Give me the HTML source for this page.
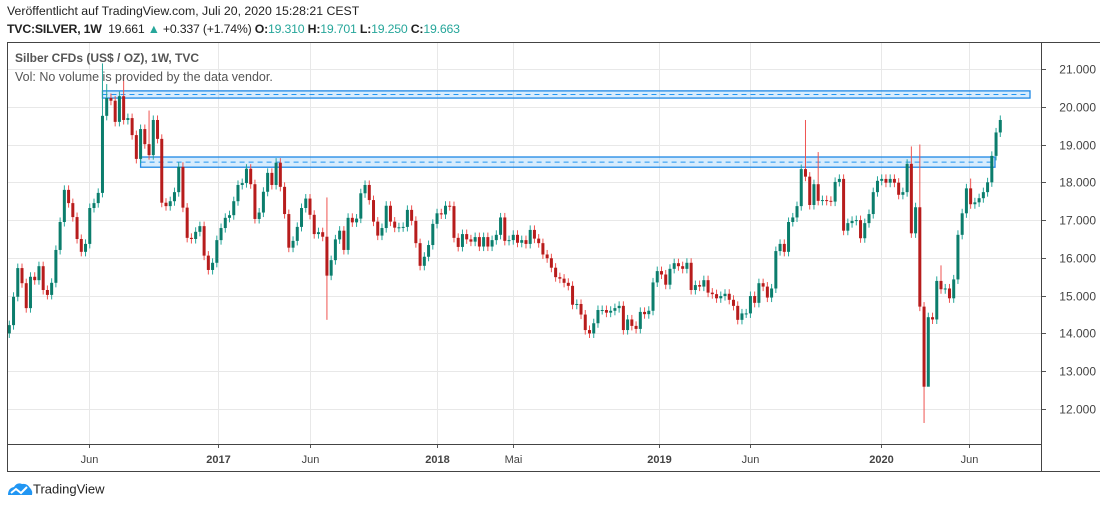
<!DOCTYPE html>
<html><head><meta charset="utf-8">
<style>
body{margin:0;background:#fff;font-family:"Liberation Sans",sans-serif;}
#wrap{position:relative;width:1100px;height:508px;overflow:hidden;background:#fff;}
.t{position:absolute;white-space:nowrap;color:#333;}
</style></head>
<body>
<div id="wrap">
<div class="t" style="left:7px;top:4px;font-size:12.3px;color:#222;">Veröffentlicht auf TradingView.com, Juli 20, 2020 15:28:21 CEST</div>
<div class="t" style="left:7px;top:22px;font-size:12.3px;color:#222;letter-spacing:-0.2px;"><b>TVC:SILVER, 1W</b>&nbsp; 19.661 <span style="color:#26a69a">▲</span> +0.337 (+1.74%) <b>O:</b><span style="color:#26a69a">19.310</span> <b>H:</b><span style="color:#26a69a">19.701</span> <b>L:</b><span style="color:#26a69a">19.250</span> <b>C:</b><span style="color:#26a69a">19.663</span></div>
<svg id="chart" width="1100" height="508" style="position:absolute;left:0;top:0;">
<g id="grid"></g>
<g id="zones"></g>
<g id="candles"></g>
<g id="axes"></g>
</svg>
<div class="t" style="left:15px;top:51px;font-size:12px;color:#555;font-weight:bold;">Silber CFDs (US$ / OZ), 1W, TVC</div>
<div class="t" style="left:15px;top:70px;font-size:12.5px;color:#555;">Vol: No volume is provided by the data vendor.</div>
<div class="t" style="left:7px;top:481px;font-size:13px;color:#222;">
<svg width="26" height="18" style="vertical-align:middle"><path d="M1 14 Q1 7 7 6 Q10 1 15 3 Q20 2 23 7 Q26 10 25 14 Z" fill="#2196f3"/><path d="M4 12 L9 8 L14 12 L20 6" stroke="#fff" stroke-width="2" fill="none"/></svg>TradingView</div>
</div>
<script>
const closes=[14.22,14.97,15.73,15.33,14.67,15.50,15.41,15.78,15.15,15.02,15.34,16.21,16.95,17.80,17.45,17.08,16.50,16.16,16.37,17.32,17.45,17.72,19.76,20.23,20.16,19.60,20.28,19.65,19.70,19.25,18.62,19.41,19.01,18.72,19.65,19.15,17.46,17.37,17.50,17.74,18.41,17.33,16.53,16.50,16.69,16.84,16.06,15.68,15.87,16.47,16.79,17.06,17.13,17.50,17.93,17.98,18.36,17.95,17.03,17.20,
17.75,18.25,17.93,18.52,17.88,17.16,16.27,16.45,16.82,17.32,17.57,17.14,16.63,16.68,16.56,15.53,15.94,16.49,16.72,16.21,17.06,16.94,17.04,17.71,17.93,17.53,16.96,16.59,16.79,17.38,16.96,16.80,16.81,16.82,17.27,16.98,16.39,15.79,16.03,16.34,16.90,17.18,17.15,17.38,17.37,16.53,16.29,16.63,16.49,16.43,16.55,16.30,16.55,16.30,16.47,16.61,17.07,16.45,16.47,16.61,16.40,16.47,16.37,16.74,16.51,16.39,16.09,15.99,15.74,15.49,15.45,
15.34,15.26,14.76,14.78,14.50,14.09,14.00,14.27,14.62,14.62,14.55,14.60,14.67,14.73,14.09,14.37,14.20,14.12,14.57,14.51,14.60,15.35,15.65,15.56,15.29,15.71,15.86,15.78,15.71,15.87,15.15,15.28,15.24,15.41,15.08,15.04,14.93,14.99,15.05,14.89,14.73,14.36,14.53,14.53,14.99,14.81,15.33,15.24,14.95,15.19,16.18,16.37,16.16,16.95,17.07,17.37,
18.35,18.15,17.40,17.95,17.51,17.53,17.51,17.49,18.01,18.09,16.72,16.92,16.98,17.00,16.52,16.92,17.16,17.74,18.04,18.09,17.99,18.09,17.99,17.67,17.74,18.49,16.65,17.34,14.71,12.59,14.43,14.37,15.39,15.17,15.19,14.93,15.43,16.61,17.18,17.84,17.42,17.47,17.58,17.74,18.00,18.70,19.32,19.65];
const firstOpen=14.0;
const wickIdx=[22,23,27,33,75,188,191,213,215,216,217,220,227];
const wickHigh=[21.15,20.6,20.8,19.9,17.6,19.65,18.8,18.95,19.0,null,null,15.8,18.1];
const wickLow=[null,null,null,null,14.36,null,null,null,null,11.63,13.9,null,null];
const zoneTop=[20.42,18.67];
const zoneBot=[20.23,18.40];
const zoneStart=[22,31];
const zoneEnd=[1030,995];
const yTicks=[12,13,14,15,16,17,18,19,20,21];
const xLabels=['Jun','2017','Jun','2018','Mai','2019','Jun','2020','Jun'];
const xLabelIdx=[18.8,49.3,71,101,119,153.4,174.9,205.9,226.7];
const L=7,R=1041,T=42,B=444,FB=471;
const yS=v=>409-(v-12)*37.78;
const xS=i=>9.3+i*4.235;
const NS='http://www.w3.org/2000/svg';
function mk(p,tag,a){const e=document.createElementNS(NS,tag);for(const k in a)e.setAttribute(k,a[k]);p.appendChild(e);return e;}
const grid=document.getElementById('grid'),ax=document.getElementById('axes'),cg=document.getElementById('candles'),zg=document.getElementById('zones');
yTicks.forEach(v=>{const y=Math.round(yS(v))+.5;
 const g=mk(grid,'line',{x1:L,x2:R,y1:y,y2:y,stroke:'#e8e8e8'});
 
 
 mk(ax,'line',{x1:R,x2:R+5,y1:y,y2:y,stroke:'#555'});
 const t=mk(ax,'text',{x:1096,y:y+4,'text-anchor':'end','font-size':12,fill:'#444','font-family':'Liberation Sans, sans-serif'});
 t.textContent=v.toFixed(3);
 
 
});
xLabels.forEach((s,k)=>{const x=Math.round(xS(xLabelIdx[k]))+.5;
 const g=mk(grid,'line',{x1:x,x2:x,y1:T,y2:B,stroke:'#e8e8e8'});
 
 
 mk(ax,'line',{x1:x,x2:x,y1:B,y2:B+4,stroke:'#555'});
 const t=mk(ax,'text',{x:x,y:463,'text-anchor':'middle','font-size':11,fill:'#444','font-weight':/^\d/.test(s)?'bold':'normal','font-family':'Liberation Sans, sans-serif'});
 t.textContent=s;
 
 
});
zoneTop.forEach((zt,k)=>{const x0=xS(zoneStart[k]),x1=zoneEnd[k],y0=yS(zt),y1=yS(zoneBot[k]);
 const r=mk(zg,'rect',{x:x0,y:y0,width:x1-x0,height:y1-y0,fill:'rgba(33,150,243,0.18)',stroke:'#1e88e5','stroke-width':1.3});
 
 
 mk(zg,'line',{x1:x0,x2:x1,y1:(y0+y1)/2,y2:(y0+y1)/2,stroke:'#2196f3','stroke-dasharray':'5,4'});
});
closes.forEach((c,i)=>{const o=i?closes[i-1]:firstOpen;const up=c>=o;
 let h=Math.max(o,c)+0.12,l=Math.min(o,c)-0.12;
 const w=wickIdx.indexOf(i);
 if(w>=0){if(wickHigh[w]!=null)h=wickHigh[w];if(wickLow[w]!=null)l=wickLow[w];}
 const x=xS(i);
 mk(cg,'line',{x1:x,x2:x,y1:yS(h),y2:yS(l),stroke:up?'#26a69a':'#ef5350','stroke-width':1});
 const yt=yS(Math.max(o,c)),yb=yS(Math.min(o,c));
 const r=mk(cg,'rect',{x:x-1.5,y:yt,width:3,height:Math.max(1,yb-yt),fill:up?'#0b7d6c':'#b71c1c'});
 
 
});
mk(ax,'rect',{x:L+.5,y:T+.5,width:1100-L,height:FB-T,fill:'none',stroke:'#444'});
mk(ax,'line',{x1:R+.5,x2:R+.5,y1:T,y2:FB,stroke:'#444'});
mk(ax,'line',{x1:L,x2:R,y1:B+.5,y2:B+.5,stroke:'#444'});
</script>
</body></html>
